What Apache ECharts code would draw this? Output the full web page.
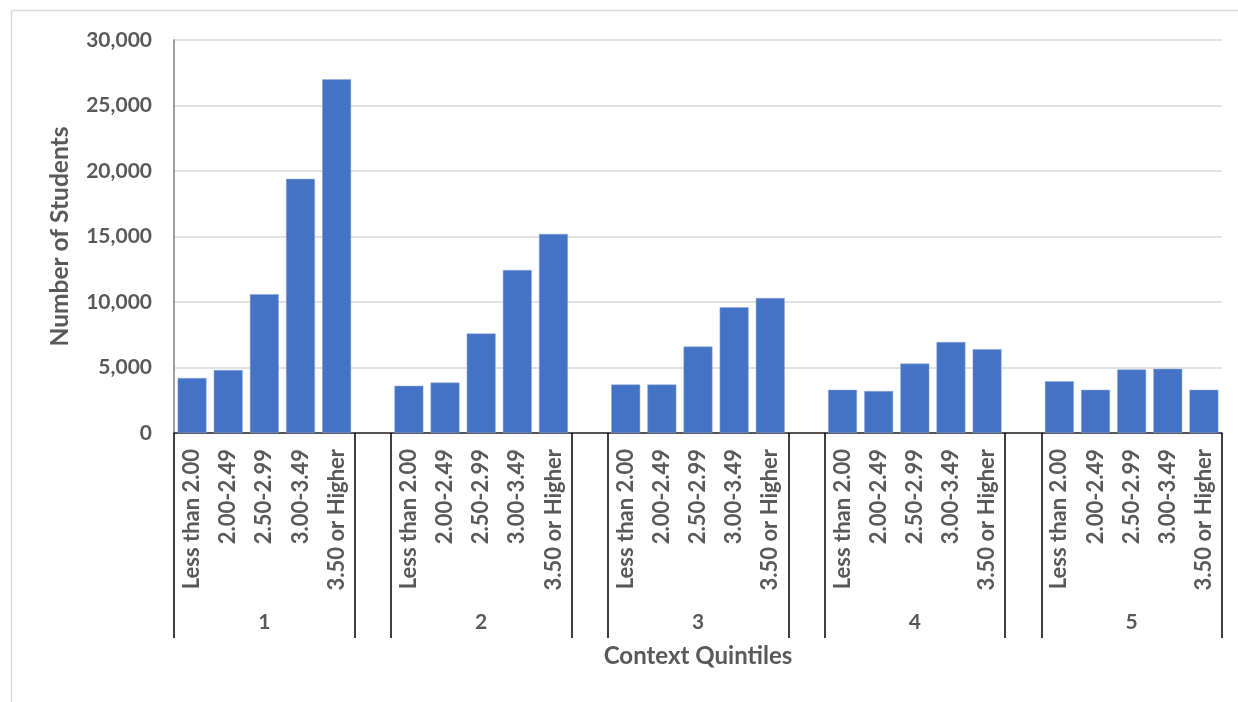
<!DOCTYPE html>
<html>
<head>
<meta charset="utf-8">
<script src="https://cdn.jsdelivr.net/npm/echarts@6/dist/echarts.min.js"></script>
<style>
  html, body { margin: 0; padding: 0; background: #ffffff; }
  #chart { width: 1238px; height: 702px; }
</style>
</head>
<body>
<div id="chart"></div>
<script>
// Context quintiles (outer category level) and GPA bands (inner level)
const quintiles = ['1', '2', '3', '4', '5'];
const gpaBands = ['Less than 2.00', '2.00-2.49', '2.50-2.99', '3.00-3.49', '3.50 or Higher'];

// Number of students per GPA band, one array per context quintile
const quintile1 = [4200, 4800, 10600, 19400, 27000];
const quintile2 = [3600, 3850, 7600, 12450, 15200];
const quintile3 = [3700, 3700, 6600, 9600, 10300];
const quintile4 = [3300, 3200, 5300, 6950, 6400];
const quintile5 = [3950, 3300, 4850, 4900, 3300];

// Value axis range and step
const yMin = 0;
const yMax = 30000;
const yStep = 5000;

const groups = [quintile1, quintile2, quintile3, quintile4, quintile5];

// Flatten into slots: five bands per quintile, one empty slot between quintiles
const slots = [];      // {q, b} for each category slot (b = -1 marks a spacer)
const values = [];
groups.forEach((vals, qi) => {
  if (qi > 0) { slots.push({ q: qi, b: -1 }); values.push(null); }
  vals.forEach((v, bi) => { slots.push({ q: qi, b: bi }); values.push(v); });
});
const slotKeys = slots.map((s, i) => 'slot' + i);

const textColor = '#595959';
const fontFamily = 'Lato, "Open Sans", sans-serif';

const chart = echarts.init(document.getElementById('chart'), null, { renderer: 'canvas' });

chart.setOption({
  animation: false,
  backgroundColor: '#ffffff',
  graphic: [{
    type: 'rect',
    shape: { x: 11.5, y: 10.5, width: 1260, height: 720 },
    style: { fill: 'none', stroke: '#d9d9d9', lineWidth: 1.5 },
    silent: true
  }],
  grid: { left: 174, right: 16, top: 40, bottom: 269, containLabel: false },
  xAxis: [
    {
      type: 'category',
      data: slotKeys,
      position: 'bottom',
      axisLine: { show: true, lineStyle: { color: '#262626', width: 1.5 } },
      axisTick: {
        show: true,
        length: 205,
        interval: (idx) => slots[idx].b === -1 || slots[idx].b === 0,
        lineStyle: { color: '#000000', width: 1.5 }
      },
      axisLabel: {
        interval: 0,
        rotate: 90,
        margin: 16,
        color: textColor,
        fontFamily: fontFamily,
        fontWeight: 'bold',
        fontSize: 22,
        formatter: (val) => {
          const s = slots[slotKeys.indexOf(val)];
          return s && s.b >= 0 ? gpaBands[s.b] : '';
        }
      },
      splitLine: { show: false }
    },
    {
      type: 'category',
      data: slotKeys,
      position: 'bottom',
      offset: 171,
      axisLine: { show: false },
      axisTick: { show: false },
      axisLabel: {
        interval: 0,
        margin: 8,
        color: textColor,
        fontFamily: fontFamily,
        fontWeight: 'bold',
        fontSize: 21,
        formatter: (val) => {
          const s = slots[slotKeys.indexOf(val)];
          return s && s.b === 2 ? quintiles[s.q] : '';
        }
      },
      name: 'Context Quintiles',
      nameLocation: 'middle',
      nameGap: 40,
      nameTextStyle: {
        color: textColor,
        fontFamily: fontFamily,
        fontWeight: 'bold',
        fontSize: 24
      }
    }
  ],
  yAxis: {
    type: 'value',
    min: yMin,
    max: yMax,
    interval: yStep,
    name: 'Number of Students',
    nameLocation: 'middle',
    nameGap: 101,
    nameTextStyle: {
      color: textColor,
      fontFamily: fontFamily,
      fontWeight: 'bold',
      fontSize: 24.5
    },
    axisLine: { show: true, lineStyle: { color: '#7f7f7f', width: 1.5 } },
    axisTick: { show: false },
    axisLabel: {
      margin: 22,
      color: textColor,
      fontFamily: fontFamily,
      fontWeight: 'bold',
      fontSize: 21,
      formatter: (v) => v.toLocaleString('en-US')
    },
    splitLine: { show: true, lineStyle: { color: '#d9d9d9', width: 1.5 } }
  },
  series: [{
    type: 'bar',
    xAxisIndex: 0,
    data: values,
    barCategoryGap: '20%',
    itemStyle: { color: '#4472c4', borderColor: '#8eaadb', borderWidth: 0.5 }
  }]
});
</script>
</body>
</html>
